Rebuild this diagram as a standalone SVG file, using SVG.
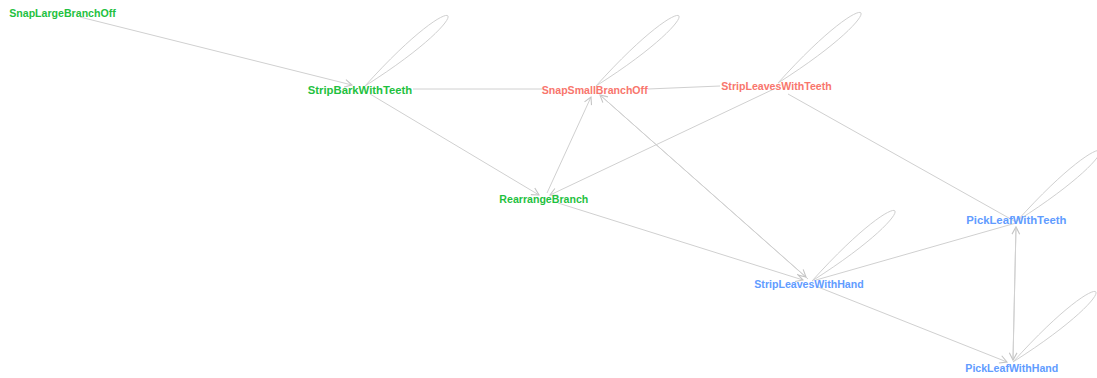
<svg xmlns="http://www.w3.org/2000/svg" xmlns:xlink="http://www.w3.org/1999/xlink" width="1097" height="378" viewBox="0 0 1097 378">
<style>
.e{fill:none;stroke:#d0d0d0;stroke-width:1}
.t{font-family:"Liberation Sans",Arial,sans-serif;font-weight:bold;font-size:10.6px;text-anchor:middle}
.g{fill:#1fc13f}
.r{fill:#f8766d}
.b{fill:#619cff}
.big{font-size:11.3px}
</style>
<defs>
<marker id="arr" markerUnits="userSpaceOnUse" markerWidth="12" markerHeight="12" viewBox="-8 -5 10 10" refX="0" refY="0" orient="auto">
<path d="M-6,-3.2 L0,0 L-6,3.2" fill="none" stroke="#c4c4c4" stroke-width="0.9"/>
</marker>
<path id="loop" d="M0,0 C98,-109 123,-78 0,0" class="e"/>
</defs>
<rect width="1097" height="378" fill="#ffffff"/>
<g id="edges">
<line class="e" x1="80" y1="17" x2="352" y2="85" marker-end="url(#arr)"/>
<line class="e" x1="413" y1="89" x2="542" y2="89"/>
<line class="e" x1="648" y1="89" x2="720" y2="86"/>
<line class="e" x1="370" y1="94" x2="539" y2="195" marker-end="url(#arr)"/>
<line class="e" x1="547" y1="193" x2="591" y2="97" marker-end="url(#arr)"/>
<line class="e" x1="776" y1="88" x2="550" y2="195" marker-end="url(#arr)"/>
<line class="e" x1="808" y1="279" x2="600" y2="95" marker-end="url(#arr)"/>
<line class="e" x1="600" y1="95" x2="806" y2="277" marker-end="url(#arr)"/>
<line class="e" x1="558" y1="203" x2="803" y2="280" marker-end="url(#arr)"/>
<line class="e" x1="788" y1="94" x2="1016" y2="222"/>
<line class="e" x1="816" y1="280" x2="1016" y2="223"/>
<line class="e" x1="1013" y1="358" x2="1016" y2="227" marker-end="url(#arr)"/>
<line class="e" x1="1016" y1="227" x2="1013" y2="360" marker-end="url(#arr)"/>
<line class="e" x1="818" y1="287" x2="1007" y2="362" marker-end="url(#arr)"/>
<use xlink:href="#loop" transform="translate(365,86)"/>
<use xlink:href="#loop" transform="translate(596,86)"/>
<use xlink:href="#loop" transform="translate(778,83)"/>
<use xlink:href="#loop" transform="translate(812,281)"/>
<use xlink:href="#loop" transform="translate(1017,221)"/>
<use xlink:href="#loop" transform="translate(1013,362)"/>
</g>
<g id="SnapLargeBranchOff"><text class="t g" x="62.5" y="17">SnapLargeBranchOff</text></g>
<g id="StripBarkWithTeeth"><text class="t g big" x="360" y="94">StripBarkWithTeeth</text></g>
<g id="SnapSmallBranchOff"><text class="t r" x="594.7" y="94">SnapSmallBranchOff</text></g>
<g id="StripLeavesWithTeeth"><text class="t r" x="776.5" y="90">StripLeavesWithTeeth</text></g>
<g id="RearrangeBranch"><text class="t g" x="543.8" y="203">RearrangeBranch</text></g>
<g id="StripLeavesWithHand"><text class="t b" x="809" y="288">StripLeavesWithHand</text></g>
<g id="PickLeafWithTeeth"><text class="t b big" x="1016.3" y="224">PickLeafWithTeeth</text></g>
<g id="PickLeafWithHand"><text class="t b" x="1011.8" y="372">PickLeafWithHand</text></g>
</svg>
